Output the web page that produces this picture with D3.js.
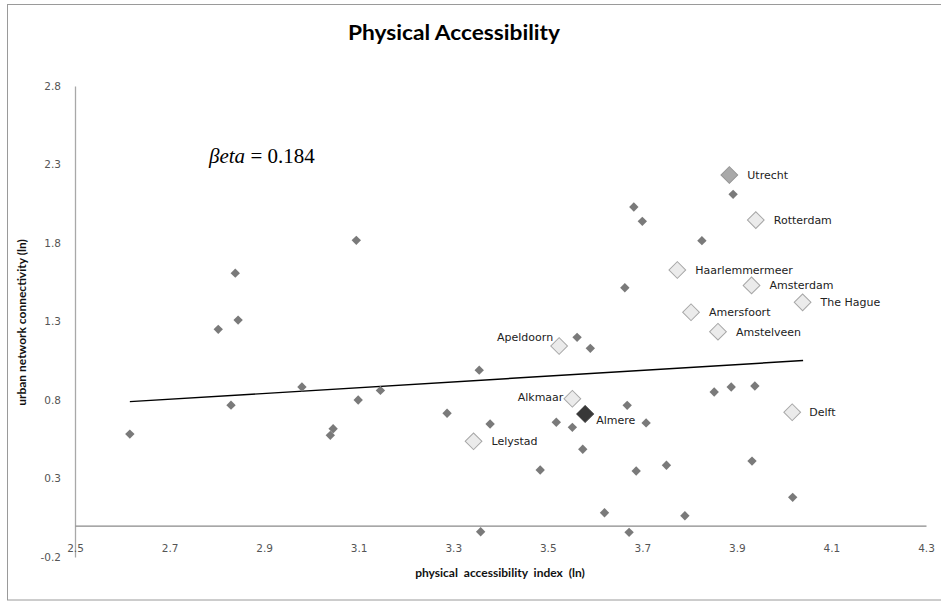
<!DOCTYPE html>
<html>
<head>
<meta charset="utf-8">
<script src="https://cdn.jsdelivr.net/npm/d3@7"></script>
<style>
  html, body { margin: 0; padding: 0; background: #fff; }
  svg { display: block; }
</style>
</head>
<body>
<svg id="chart" width="941" height="602"></svg>
<script>
// Municipalities: physical accessibility index (ln) vs urban network connectivity (ln)
const otherX = [2.616, 2.803, 2.839, 2.845, 2.830, 2.980, 3.040, 3.046, 3.095, 3.099, 3.146, 3.287,
                3.355, 3.378, 3.518, 3.552, 3.668, 3.708, 3.574, 3.484, 3.687, 3.751, 3.852, 3.888,
                3.938, 3.932, 4.018, 3.620, 3.790, 3.358, 3.672, 3.892, 3.682, 3.700, 3.826, 3.663,
                3.562, 3.590];
const otherY = [0.583, 1.250, 1.608, 1.309, 0.767, 0.883, 0.575, 0.617, 1.817, 0.800, 0.861, 0.716,
                0.990, 0.647, 0.658, 0.626, 0.766, 0.654, 0.486, 0.354, 0.348, 0.384, 0.851, 0.883,
                0.889, 0.411, 0.180, 0.082, 0.063, -0.039, -0.043, 2.110, 2.029, 1.938, 1.815, 1.515,
                1.199, 1.129];

const cityNames = ["Utrecht", "Rotterdam", "Haarlemmermeer", "Amsterdam", "The Hague", "Amersfoort",
                   "Amstelveen", "Apeldoorn", "Alkmaar", "Almere", "Lelystad", "Delft"];
const cityX = [3.884, 3.940, 3.774, 3.931, 4.039, 3.803, 3.860, 3.524, 3.552, 3.579, 3.343, 4.017];
const cityY = [2.233, 1.946, 1.628, 1.530, 1.422, 1.359, 1.235, 1.144, 0.808, 0.711, 0.537, 0.722];
const cityRole = ["reference", "peer", "peer", "peer", "peer", "peer",
                  "peer", "peer", "peer", "focus", "peer", "peer"];

const xTicks = [2.5, 2.7, 2.9, 3.1, 3.3, 3.5, 3.7, 3.9, 4.1, 4.3];
const yTicks = [-0.2, 0.3, 0.8, 1.3, 1.8, 2.3, 2.8];

// Regression line: slope beta, drawn across the observed range
const beta = 0.184;
const trendIntercept = 0.308;
const trendRange = [2.616, 4.040];

// ---- layout & styles ----
const svg = d3.select("#chart");
const plot = { left: 75, right: 926, top: 86, bottom: 557 };

const x = d3.scaleLinear().domain([2.5, 4.3]).range([plot.left, plot.right]);
const y = d3.scaleLinear().domain([-0.2, 2.8]).range([plot.bottom, plot.top]);

// one decimal, plain hyphen for negatives
const fmt = d => d.toFixed(1);

const roleStyle = {
  peer:      { fill: "#ebebeb", stroke: "#a6a6a6", size: 140 },
  reference: { fill: "#a9a9a9", stroke: "#959595", size: 140 },
  focus:     { fill: "#383838", stroke: "#383838", size: 140 }
};
// label placement relative to its marker (dx, dy, anchor)
const labelPlace = {
  "Apeldoorn": [-6, -9, "end"],
  "Alkmaar":   [-9, -2, "end"],
  "Almere":    [11, 6, "start"],
  "Delft":     [17, 0, "start"]
};

// outer frame
svg.append("rect")
  .attr("x", 7.5).attr("y", 4.5).attr("width", 940).attr("height", 595.5)
  .attr("fill", "none").attr("stroke", "#9a9a9a").attr("stroke-width", 1);

// title
svg.append("text")
  .attr("x", 348).attr("y", 40)
  .attr("font-family", "Lato, 'Open Sans', sans-serif")
  .attr("font-weight", "bold").attr("font-size", 20)
  .attr("textLength", 212).attr("lengthAdjust", "spacingAndGlyphs")
  .attr("fill", "#000")
  .text("Physical Accessibility");

// y axis (line + labels)
const yAxis = d3.axisLeft(y).tickValues(yTicks).tickSize(0).tickPadding(14).tickFormat(fmt);
const gy = svg.append("g").attr("transform", `translate(${plot.left},0)`).call(yAxis);
gy.select(".domain").attr("stroke", "#a8a8a8").attr("stroke-width", 1.3);
gy.selectAll("text")
  .attr("font-family", "'DejaVu Sans', Verdana, sans-serif")
  .attr("font-size", 10.5).attr("fill", "#555");

// x axis: line crosses at y = 0, labels sit at bottom of plot area
const xAxis = d3.axisBottom(x).tickValues(xTicks).tickSize(0).tickPadding(0).tickFormat(fmt);
const gx = svg.append("g").attr("transform", `translate(0,${y(0)})`).call(xAxis);
gx.select(".domain").attr("stroke", "#8a8a8a").attr("stroke-width", 1.3);
gx.selectAll("text")
  .attr("dy", null)
  .attr("y", plot.bottom - 5 - y(0))
  .attr("font-family", "'DejaVu Sans', Verdana, sans-serif")
  .attr("font-size", 10.5).attr("fill", "#555");

// axis titles
svg.append("text")
  .attr("x", 500).attr("y", 577)
  .attr("text-anchor", "middle")
  .attr("font-family", "Lato, sans-serif")
  .attr("font-weight", "bold").attr("font-size", 12)
  .attr("word-spacing", 3)
  .attr("fill", "#111")
  .text("physical accessibility index (ln)");

svg.append("text")
  .attr("transform", `translate(26,${(plot.top + plot.bottom) / 2 + 1}) rotate(-90)`)
  .attr("text-anchor", "middle")
  .attr("font-family", "Lato, sans-serif")
  .attr("font-weight", "bold").attr("font-size", 12)
  .attr("fill", "#111")
  .text("urban network connectivity (ln)");

// regression line
const trend = d3.line().x(d => x(d)).y(d => y(trendIntercept + beta * d));
svg.append("path")
  .attr("d", trend(trendRange))
  .attr("fill", "none").attr("stroke", "#000").attr("stroke-width", 1.4);

// beta annotation
const bt = svg.append("text")
  .attr("x", 209).attr("y", 163)
  .attr("font-family", "'Liberation Serif', 'Times New Roman', serif")
  .attr("font-size", 21).attr("fill", "#000");
bt.append("tspan").attr("font-style", "italic").text("\u03B2eta");
bt.append("tspan").text(" = " + beta.toFixed(3));

// diamond marker (square rotated 45°)
const diamond = size => d3.symbol().type(d3.symbolSquare).size(size)();

// other municipalities
const others = otherX.map((v, i) => ({ x: v, y: otherY[i] }));
svg.append("g").selectAll("path")
  .data(others).join("path")
  .attr("d", diamond(44))
  .attr("transform", d => `translate(${x(d.x)},${y(d.y)}) rotate(45)`)
  .attr("fill", "#7a7a7a");

// named municipalities
const cities = cityNames.map((n, i) => ({ name: n, x: cityX[i], y: cityY[i], role: cityRole[i] }));
const cg = svg.append("g");
cg.selectAll("path")
  .data(cities).join("path")
  .attr("d", d => diamond(roleStyle[d.role].size))
  .attr("transform", d => `translate(${x(d.x)},${y(d.y)}) rotate(45)`)
  .attr("fill", d => roleStyle[d.role].fill)
  .attr("stroke", d => roleStyle[d.role].stroke)
  .attr("stroke-width", 1);

cg.selectAll("text")
  .data(cities).join("text")
  .attr("x", d => x(d.x) + (labelPlace[d.name] ? labelPlace[d.name][0] : 18))
  .attr("y", d => y(d.y) + (labelPlace[d.name] ? labelPlace[d.name][1] : 0))
  .attr("dy", "0.35em")
  .attr("text-anchor", d => labelPlace[d.name] ? labelPlace[d.name][2] : "start")
  .attr("font-family", "'DejaVu Sans', Verdana, sans-serif")
  .attr("font-size", 11).attr("fill", "#222")
  .text(d => d.name);
</script>
</body>
</html>
